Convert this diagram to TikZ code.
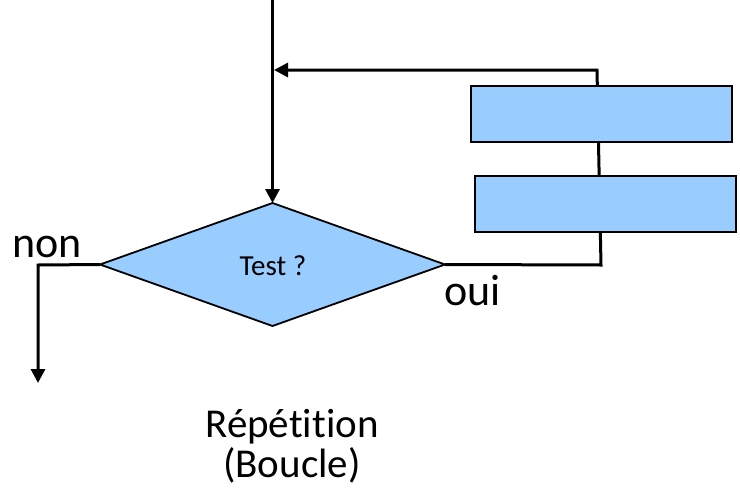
\documentclass[tikz,border=0pt]{standalone}
\usepackage{fontspec}
\setmainfont{Carlito}[Ligatures=NoCommon]
\usetikzlibrary{shapes.geometric,arrows.meta}
\definecolor{boxblue}{HTML}{99CCFF}
\tikzset{
  x=1pt, y=-1pt,
  flow/.style={line width=3pt, line join=miter},
  tip/.style={-{Triangle[length=14pt,width=14pt]}},
  decision/.style={diamond, draw, line width=1.8pt, fill=boxblue,
    minimum width=345pt, minimum height=123pt, inner sep=0pt, outer sep=0pt},
  actionbox/.style={rectangle, draw, line width=2pt, fill=boxblue,
    minimum height=56pt, inner sep=0pt, outer sep=0pt},
  bigtext/.style={inner sep=0pt, font=\fontsize{44}{44}\selectfont},
  captext/.style={inner sep=0pt, font=\fontsize{41}{41}\selectfont},
}
\begin{document}
\begin{tikzpicture}
  \useasboundingbox (0,0) rectangle (740,496);

  % decision diamond
  \node[decision] (test) at (272.5,264.5) {};
  \node[inner sep=0pt, font=\fontsize{29}{30}\selectfont, anchor=base] (testlbl) at (273,275) {Test ?};

  % incoming flow from above
  \coordinate (entry) at (272.5,0);
  \draw[flow, tip] (entry) -- (test.north);

  % loop back from the "oui" branch
  \coordinate (loopbr) at (601,265);
  \coordinate (looptr) at (597,70);
  \coordinate (loopin) at (274,70);
  \draw[flow, tip] (test.east) -- (loopbr) -- (looptr) -- (loopin);

  % exit on the "non" branch
  \coordinate (exitc) at (38,265);
  \coordinate (exitend) at (38,383);
  \draw[flow, tip] (test.west) -- (exitc) -- (exitend);

  % loop body
  \node[actionbox, minimum width=261pt] (body1) at (601.5,114) {};
  \node[actionbox, minimum width=261pt] (body2) at (605.5,203.5) {};

  % labels
  \node[bigtext, anchor=base west] (non) at (12,257) {non};
  \node[bigtext, anchor=base west] (oui) at (444,305) {oui};
  \node[captext, anchor=base] (cap1) at (292,437) {Répétition};
  \node[captext, anchor=base] (cap2) at (292,477) {(Boucle)};
\end{tikzpicture}
\end{document}
